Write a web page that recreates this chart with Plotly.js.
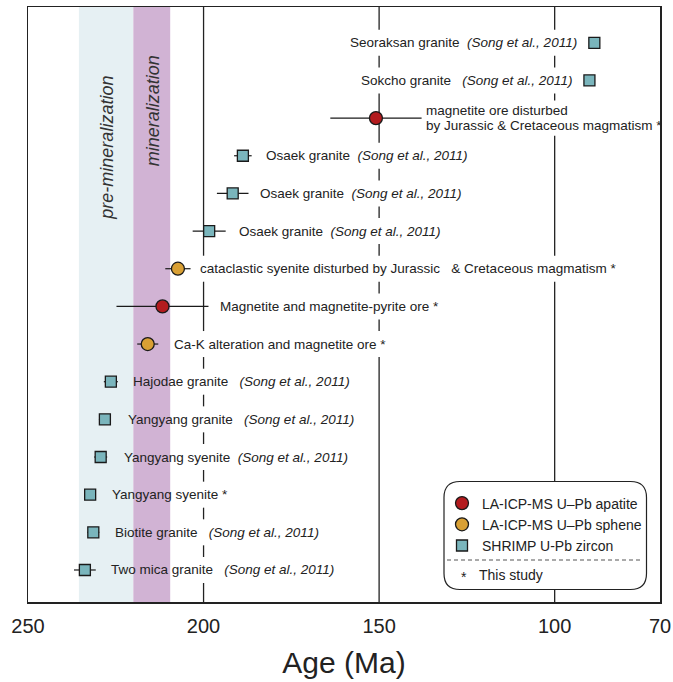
<!DOCTYPE html>
<html>
<head>
<meta charset="utf-8">
<script src="https://cdn.plot.ly/plotly-3.0.1.min.js"></script>
<style>html,body{margin:0;padding:0;background:#fff;}#chart{width:673px;height:682px;}</style>
</head>
<body>
<div id="chart"></div>
<script>
// ---- data (rows from bottom to top) ----
const names = [
  "Two mica granite", "Biotite granite", "Yangyang syenite", "Yangyang syenite",
  "Yangyang granite", "Hajodae granite", "Ca-K alteration and magnetite ore",
  "Magnetite and magnetite-pyrite ore",
  "cataclastic syenite disturbed by Jurassic\u00a0\u00a0 & Cretaceous magmatism",
  "Osaek granite", "Osaek granite", "Osaek granite",
  "magnetite ore disturbed<br>by Jurassic & Cretaceous magmatism",
  "Sokcho granite", "Seoraksan granite"
];
const sources = ["Song", "Song", "study", "Song", "Song", "Song", "study", "study",
  "study", "Song", "Song", "Song", "study", "Song", "Song"];
const methods = ["zircon", "zircon", "zircon", "zircon", "zircon", "zircon", "sphene",
  "apatite", "sphene", "zircon", "zircon", "zircon", "apatite", "zircon", "zircon"];
const ages = [233.8, 231.4, 232.3, 229.3, 228.1, 226.4, 215.9, 211.7, 207.3,
  198.4, 191.7, 188.8, 150.9, 90.1, 88.7];
const errs = [3.1, 1.7, 1.0, 1.85, 1.7, 2.0, 3.0, 13.1, 3.6, 4.7, 4.5, 2.5, 13.0, 1.0, 1.0];
const citation = "(Song et al., 2011)";
const methodNames = {
  apatite: "LA-ICP-MS U\u2013Pb apatite",
  sphene: "LA-ICP-MS U\u2013Pb sphene",
  zircon: "SHRIMP U-Pb zircon"
};
const periods = [
  {name: "pre-mineralization", from: 235.5, to: 220.0},
  {name: "mineralization", from: 220.0, to: 209.5}
];
const tickVals = [250, 200, 150, 100, 70];
const refLines = [200, 150, 100];

// ---- layout helpers (pixels of the 673x682 page) ----
const FONT = "Liberation Sans, Arial, sans-serif";
const M = {l: 28, r: 13, t: 7, b: 80};
const PW = 673 - M.l - M.r, PH = 682 - M.t - M.b;
const X0 = 250, X1 = 70;
const Y0 = -0.85, Y1 = 14.95;
const px2x = p => (p - M.l) / PW;
const py2y = p => (682 - M.b - p) / PH;
const age2px = a => M.l + (X0 - a) / (X0 - X1) * PW;
const pxPerRow = PH / (Y1 - Y0);
const rows = ages.map((_, i) => i);

// label offsets from marker (px) and gap spaces
const labelShift = [26, 22, 22, 23.5, 23, 22, 26, 57.5, 22.5, 30, 27, 23, 50, -17.5, -17.5];
const gapSpaces = [3, 3, 0, 2, 3, 3, 0, 0, 0, 2, 2, 2, 0, 3, 2];
const LABEL_SIZE = 13.5, LINE_STEP = 15.6, GAP_HALF = 13;

const styles = {
  apatite: {symbol: "circle", size: 13, color: "#B31B1E"},
  sphene: {symbol: "circle", size: 13, color: "#D9A034"},
  zircon: {symbol: "square", size: 11, color: "#7AB5BC"}
};

// text measuring (to break the reference lines under labels)
const ctx = document.createElement("canvas").getContext("2d");
function measure(str, italic) {
  ctx.font = (italic ? "italic " : "") + LABEL_SIZE + "px " + FONT;
  return ctx.measureText(str).width;
}

const annotations = [];
const gaps = {};
refLines.forEach(v => gaps[v] = []);
rows.forEach(i => {
  const sp = "\u00a0".repeat(gapSpaces[i]);
  const lines = names[i].split("<br>");
  const n = lines.length;
  lines.forEach((ln, k) => {
    const last = k === n - 1;
    let txt = ln, w = measure(ln, false);
    if (last) {
      if (sources[i] === "Song") {
        txt = ln + sp + "<i>" + citation + "</i>";
        w += measure(sp, false) + measure(citation, true);
      } else {
        txt = ln + " *";
        w += measure(" *", false);
      }
    }
    const ysh = -(k - (n - 1) / 2) * LINE_STEP;
    const right = labelShift[i] < 0;
    annotations.push({
      x: ages[i], y: i, xref: "x", yref: "y", text: txt, showarrow: false,
      xanchor: right ? "right" : "left", yanchor: "middle",
      xshift: labelShift[i], yshift: ysh, align: "left", borderpad: 0, borderwidth: 0,
      font: {family: FONT, size: LABEL_SIZE, color: "#222"}
    });
    const mx = age2px(ages[i]) + labelShift[i];
    const l = right ? mx - w : mx, r = right ? mx : mx + w;
    refLines.forEach(v => {
      const p = age2px(v);
      if (p > l - 3 && p < r + 3) {
        const c = i + ysh / pxPerRow;
        const h = (n > 1 ? GAP_HALF * 0.75 : GAP_HALF) / pxPerRow;
        gaps[v].push([c - h, c + h]);
      }
    });
  });
});

// reference lines as one line trace, broken (null) where labels cross them
const refX = [], refY = [];
refLines.forEach(v => {
  const g = gaps[v].slice().sort((a, b) => a[0] - b[0]);
  let start = Y0;
  g.forEach(([a, b]) => {
    if (a > start) { refX.push(v, v, null); refY.push(start, a, null); }
    start = Math.max(start, b);
  });
  if (start < Y1) { refX.push(v, v, null); refY.push(start, Y1, null); }
});

const traces = [{
  type: "scatter", mode: "lines", x: refX, y: refY, connectgaps: false,
  line: {color: "#222", width: 1.3}, showlegend: false, hoverinfo: "skip", cliponaxis: true
}].concat(["apatite", "sphene", "zircon"].map(m => {
  const idx = rows.filter(i => methods[i] === m);
  return {
    type: "scatter", mode: "markers", name: methodNames[m],
    legendgroup: m,
    x: idx.map(i => ages[i]), y: idx.map(i => i),
    error_x: {type: "data", symmetric: true, array: idx.map(i => errs[i]),
      color: "#1a1a1a", thickness: 1.2, width: 0},
    marker: {symbol: styles[m].symbol, size: styles[m].size, color: styles[m].color,
      line: {color: "#1a1a1a", width: 1.3}},
    hoverinfo: "skip"
  };
}));

// period labels
const periodLabelPos = [{x: 227.6, y: py2y(148)}, {x: 214.3, y: py2y(111)}];
periods.forEach((p, k) => {
  annotations.push({
    x: periodLabelPos[k].x, y: periodLabelPos[k].y, xref: "x", yref: "paper",
    xanchor: "center", yanchor: "middle",
    text: "<i>" + p.name + "</i>", textangle: -90, showarrow: false,
    font: {family: FONT, size: 18, color: "#333"}
  });
});

// legend footnote
annotations.push({x: px2x(464), y: py2y(577), xref: "paper", yref: "paper", text: "*",
  xanchor: "center", yanchor: "middle", showarrow: false,
  font: {family: FONT, size: 14, color: "#222"}});
annotations.push({x: px2x(479), y: py2y(575), xref: "paper", yref: "paper", text: "This study",
  xanchor: "left", yanchor: "middle", showarrow: false, borderpad: 0, borderwidth: 0,
  font: {family: FONT, size: 14, color: "#222"}});

const bandColors = ["#E6F0F3", "#D1B3D4"];
const shapes = [];
periods.forEach((p, k) => shapes.push({type: "rect", layer: "below", xref: "x", yref: "paper",
  x0: p.from, x1: p.to, y0: 0, y1: 1, fillcolor: bandColors[k], line: {width: 0}}));

// legend rounded box + dashed separator
const bx0 = 444, bx1 = 646.5, by0 = 481.5, by1 = 589.5, rad = 16;
const X = p => px2x(p).toFixed(5), Y = p => py2y(p).toFixed(5);
const boxPath = `M ${X(bx0 + rad)},${Y(by0)} L ${X(bx1 - rad)},${Y(by0)} Q ${X(bx1)},${Y(by0)} ${X(bx1)},${Y(by0 + rad)} ` +
  `L ${X(bx1)},${Y(by1 - rad)} Q ${X(bx1)},${Y(by1)} ${X(bx1 - rad)},${Y(by1)} L ${X(bx0 + rad)},${Y(by1)} ` +
  `Q ${X(bx0)},${Y(by1)} ${X(bx0)},${Y(by1 - rad)} L ${X(bx0)},${Y(by0 + rad)} Q ${X(bx0)},${Y(by0)} ${X(bx0 + rad)},${Y(by0)} Z`;
shapes.push({type: "path", layer: "above", xref: "paper", yref: "paper", path: boxPath,
  fillcolor: "#fff", line: {color: "#222", width: 1.2}});
shapes.push({type: "line", layer: "above", xref: "paper", yref: "paper", x0: px2x(447), x1: px2x(643),
  y0: py2y(560), y1: py2y(560), line: {color: "#555", width: 1, dash: "4px,3px"}});

const layout = {
  width: 673, height: 682,
  margin: M,
  paper_bgcolor: "#fff", plot_bgcolor: "#fff",
  showlegend: true,
  legend: {x: px2x(442), xanchor: "left", y: py2y(487.5), yanchor: "top",
    bgcolor: "rgba(0,0,0,0)", borderwidth: 0, tracegroupgap: 0,
    font: {family: FONT, size: 14, color: "#222"}},
  xaxis: {range: [X0, X1], tickvals: tickVals, ticks: "", showgrid: false, zeroline: false,
    showline: true, mirror: true, linecolor: "#222", linewidth: 1.5, ticklabelstandoff: 5,
    tickfont: {family: FONT, size: 20, color: "#222"},
    title: {text: "Age (Ma)", standoff: 16,
      font: {family: FONT, size: 30, color: "#222"}}},
  yaxis: {range: [Y0, Y1], showticklabels: false, ticks: "", showgrid: false,
    zeroline: false, showline: true, mirror: true, linecolor: "#222", linewidth: 1.5},
  shapes: shapes,
  annotations: annotations,
  font: {family: FONT}
};

Plotly.newPlot("chart", traces, layout, {displayModeBar: false, staticPlot: true});
</script>
</body>
</html>
